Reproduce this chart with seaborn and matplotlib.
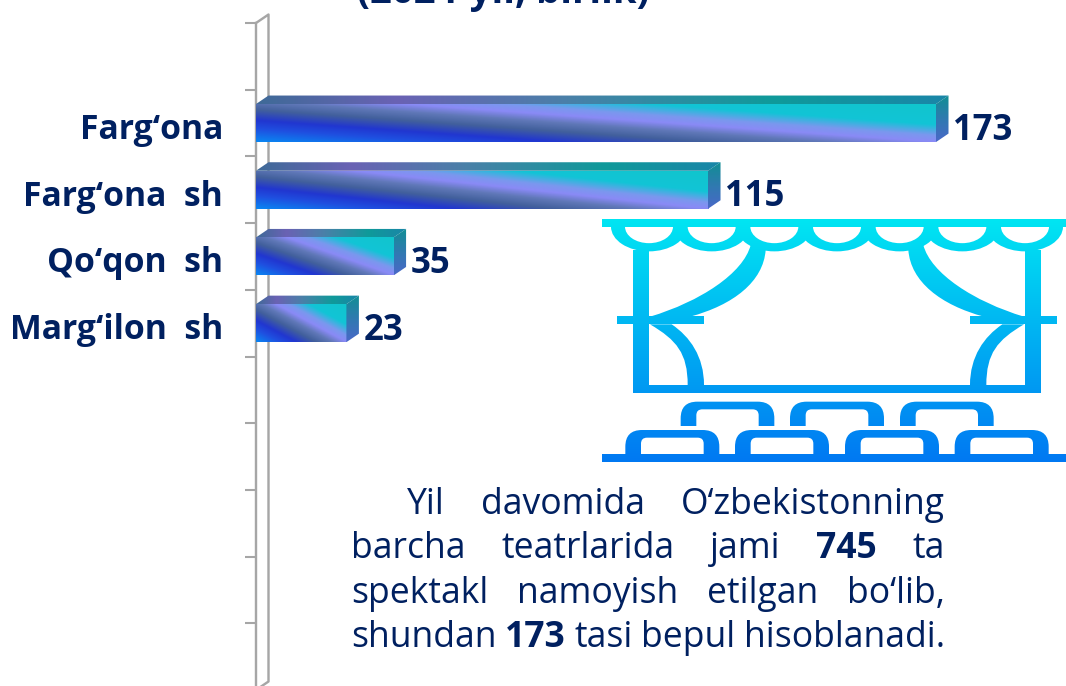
import numpy as np
import pandas as pd
import matplotlib
matplotlib.use("Agg")
import matplotlib.pyplot as plt
import seaborn as sns
from matplotlib.colors import LinearSegmentedColormap
from matplotlib.patches import PathPatch, Polygon, Rectangle, Ellipse
from matplotlib.path import Path
from matplotlib.transforms import ScaledTranslation

# data
cities = ["Farg‘ona", "Farg‘ona  sh", "Qo‘qon  sh", "Marg‘ilon  sh"]
shows = [173, 115, 35, 23]
title_text = "(2024-yil, birlik)"
note_lines = [
    [("Yil", False), ("davomida", False), ("O‘zbekistonning", False)],
    [("barcha", False), ("teatrlarida", False), ("jami", False), ("745", True), ("ta", False)],
    [("spektakl", False), ("namoyish", False), ("etilgan", False), ("bo‘lib,", False)],
    [("shundan", False), ("173", True), ("tasi", False), ("bepul", False), ("hisoblanadi.", False)],
]

W, H = 1066, 686
NAVY = "#002060"
GRAY = "#a6a6a6"
PX = 0.72  # points per pixel at dpi 100

sns.set_theme(style="white")
plt.rcParams['font.family'] = ['Open Sans', 'DejaVu Sans']

front_cmap = LinearSegmentedColormap.from_list("front", [
    (0.0, "#0a86f2"), (0.13, "#1f4fe0"), (0.22, "#2136d0"), (0.33, "#42609c"), (0.42, "#6078b8"),
    (0.5, "#8a8af6"), (0.57, "#7a98ee"), (0.68, "#12c4d6"), (1.0, "#10c6c8")])
top_cmap = LinearSegmentedColormap.from_list("top", [
    (0.0, "#3f6a98"), (0.2, "#6a62b4"), (0.45, "#4a80a8"), (0.75, "#0f9a9a"), (1.0, "#1a86a8")])
side_cmap = LinearSegmentedColormap.from_list("side", ["#118f94", "#2f7ab0", "#4a68c8"])

fig = plt.figure(figsize=(W / 100, H / 100), dpi=100)
# axes run a little past the bottom of the picture, like the original slide crop
ax_left, ax_top, ax_bottom = 256, 23, 690
ax = fig.add_axes([ax_left / W, 1 - ax_bottom / H, (W - ax_left) / W, (ax_bottom - ax_top) / H])
ax.patch.set_alpha(0)

df = pd.DataFrame({"city": cities, "shows": shows})
sns.barplot(data=df, x="shows", y="city", orient="h", width=0.57, color="#2136d0", ax=ax, zorder=3)

xmax = (W - ax_left) / (680 / 173)
ymin, ymax = -1.5, 8.5
dx = 12.5 / (680 / 173)
dy = 8.5 / ((ax_bottom - ax_top) / (ymax - ymin))


def gradient_face(cmap, extent, clip, field):
    n = 120
    u, v = np.meshgrid(np.linspace(0, 1, n), np.linspace(0, 1, n))
    im = ax.imshow(field(u, v), cmap=cmap, vmin=0, vmax=1, extent=extent, origin="lower",
                   aspect="auto", zorder=3, interpolation="bilinear")
    im.set_clip_path(clip)


for bar in list(ax.patches):
    x0, x1 = bar.get_x(), bar.get_x() + bar.get_width()
    y0, y1 = sorted([bar.get_y(), bar.get_y() + bar.get_height()])
    # y is inverted: y0 is the upper edge on screen; v goes from y0 (v=0) to y1 (v=1)
    gradient_face(front_cmap, (x0, x1, y0, y1),
                  Rectangle((x0, y0), x1 - x0, y1 - y0, transform=ax.transData),
                  lambda u, v: 0.5 * u + 0.4 * (1 - v))
    top = Polygon([(x0, y0), (x0 + dx, y0 - dy), (x1 + dx, y0 - dy), (x1, y0)], transform=ax.transData)
    gradient_face(top_cmap, (x0, x1 + dx, y0 - dy, y0), top, lambda u, v: u)
    side = Polygon([(x1, y0), (x1 + dx, y0 - dy), (x1 + dx, y1 - dy), (x1, y1)], transform=ax.transData)
    gradient_face(side_cmap, (x1, x1 + dx, y0 - dy, y1), side, lambda u, v: v)
    bar.set_visible(False)
    ax.annotate(f"{bar.get_width():.0f}", (x1, (y0 + y1) / 2), xytext=(17 * PX, -16.5 * PX),
                textcoords="offset points", ha="left", va="baseline",
                fontsize=25, fontweight="bold", color=NAVY, zorder=5)

ax.set_xlim(0, xmax)
ax.set_ylim(ymax, ymin)
ax.set_xlabel("")
ax.set_ylabel("")
ax.set_xticks([])

# ticks sit on category edges, names between them
ax.set_yticks(np.arange(ymin, ymax + 1))
ax.set_yticklabels([])
ax.set_yticks(range(len(cities)), labels=cities, minor=True)
ax.tick_params(axis="y", which="major", length=11 * PX, width=1.5, color=GRAY, left=True)
ax.tick_params(axis="y", which="minor", length=0, pad=33 * PX)
for lab in ax.get_yticklabels(minor=True):
    lab.set(fontsize=24.3, fontweight="bold", color=NAVY, va="baseline")
    lab.set_transform(lab.get_transform() + ScaledTranslation(0, -16 * PX / 72, fig.dpi_scale_trans))

for name in ["top", "right", "bottom"]:
    ax.spines[name].set_visible(False)
ax.spines["left"].set(color=GRAY, linewidth=2.4 * PX)

# back wall of the 3d frame
wall_x = [0, dx, dx, 0]
wall_y = [ymin, ymin - dy, ymax - dy, ymax]
ax.plot(wall_x, wall_y, color=GRAY, linewidth=2.4 * PX, clip_on=False, zorder=1)

# overlay in pixel coordinates for the note and title
ov = fig.add_axes([0, 0, 1, 1])
ov.set_xlim(0, W)
ov.set_ylim(H, 0)
ov.axis("off")
ov.patch.set_alpha(0)

ov.text(503, 3, title_text, ha="center", va="baseline", fontsize=27.5, fontweight="bold", color=NAVY)

renderer = fig.canvas.get_renderer()
baselines = [514, 558, 603, 647]
for i, (words, base) in enumerate(zip(note_lines, baselines)):
    left = 407 if i == 0 else 351
    right = 945
    items = [ov.text(0, base, w, ha="left", va="baseline", fontsize=25.6,
                     fontweight="bold" if b else "normal", color=NAVY) for w, b in words]
    widths = [t.get_window_extent(renderer).width for t in items]
    gap = (right - left - sum(widths)) / (len(items) - 1)
    x = left
    for t, w in zip(items, widths):
        t.set_x(x)
        x += w + gap


# theatre icon: shapes drawn once as a mask, then filled with the vertical gradient
def zx(v):
    return 600 + v / 3


def zy(v):
    return 210 + v / 3


def arch(x0, x1, ytop, ybot, r):
    verts = [(x0, ybot), (x0, ytop + r), (x0, ytop), (x0 + r, ytop), (x1 - r, ytop),
             (x1, ytop), (x1, ytop + r), (x1, ybot), (x0, ybot)]
    codes = [Path.MOVETO, Path.LINETO, Path.CURVE3, Path.CURVE3, Path.LINETO,
             Path.CURVE3, Path.CURVE3, Path.LINETO, Path.CLOSEPOLY]
    return Path([(zx(a), zy(b)) for a, b in verts], codes)


def curve(pts, flip=False):
    c = [Path.MOVETO, Path.CURVE4, Path.CURVE4, Path.CURVE4, Path.LINETO,
         Path.CURVE4, Path.CURVE4, Path.CURVE4, Path.CLOSEPOLY]
    return Path([(zx(1422 - a if flip else a), zy(b)) for a, b in pts], c)


mask_fig = plt.figure(figsize=(W / 100, H / 100), dpi=100)
m = mask_fig.add_axes([0, 0, 1, 1])
m.set_xlim(0, W)
m.set_ylim(H, 0)
m.axis("off")


def ink(patch, color="black"):
    patch.set(facecolor=color, edgecolor="none")
    m.add_patch(patch)


def box(x0, y0, x1, y1, color="black"):
    ink(Rectangle((zx(x0), zy(y0)), (x1 - x0) / 3, (y1 - y0) / 3), color)


centers = [147, 335, 523, 711, 899, 1087, 1275]
for c in centers:
    ink(Ellipse((zx(c), zy(50)), 76, 49.4))
for c in centers:
    ink(Ellipse((zx(c), zy(50)), 48, 33), "white")
box(-30, -100, 1500, 27, "white")
box(6, 27, 1398, 50)
box(100, 120, 147, 550)
box(1275, 120, 1322, 550)
box(100, 525, 1322, 550)
box(52, 318, 312, 343)
box(1110, 318, 1370, 343)
for flip in [False, True]:
    ink(PathPatch(curve([(452, 105), (430, 190), (300, 275), (150, 320), (270, 320),
                         (400, 285), (490, 215), (497, 120), (452, 105)], flip)))
    ink(PathPatch(curve([(150, 343), (230, 390), (263, 430), (263, 525), (312, 525),
                         (312, 440), (270, 380), (215, 343), (150, 343)], flip)))
for x0, x1 in [(242, 523), (570, 852), (900, 1181)]:
    ink(PathPatch(arch(x0, x1, 575, 648, 50)))
    ink(PathPatch(arch(x0 + 47, x1 - 47, 598, 650, 18)), "white")
for x0, x1 in [(76, 358), (405, 687), (735, 1017), (1064, 1346)]:
    ink(PathPatch(arch(x0, x1, 660, 735, 50)))
    ink(PathPatch(arch(x0 + 47, x1 - 47, 683, 733, 18)), "white")
box(6, 732, 1398, 755)

mask_fig.canvas.draw()
alpha = 1 - np.asarray(mask_fig.canvas.buffer_rgba())[:, :, 0] / 255.0
plt.close(mask_fig)

rows = np.clip((np.arange(H) - 219) / (462 - 219), 0, 1)
rgba = np.zeros((H, W, 4))
rgba[:, :, 1] = (0.90 + (0.47 - 0.90) * rows)[:, None]
rgba[:, :, 2] = 0.95
rgba[:, :, 3] = alpha
ov.imshow(rgba, extent=(0, W, H, 0), aspect="auto", interpolation="none", zorder=6)
ov.set_xlim(0, W)
ov.set_ylim(H, 0)

fig.savefig("out.png", dpi=100)
plt.close()
